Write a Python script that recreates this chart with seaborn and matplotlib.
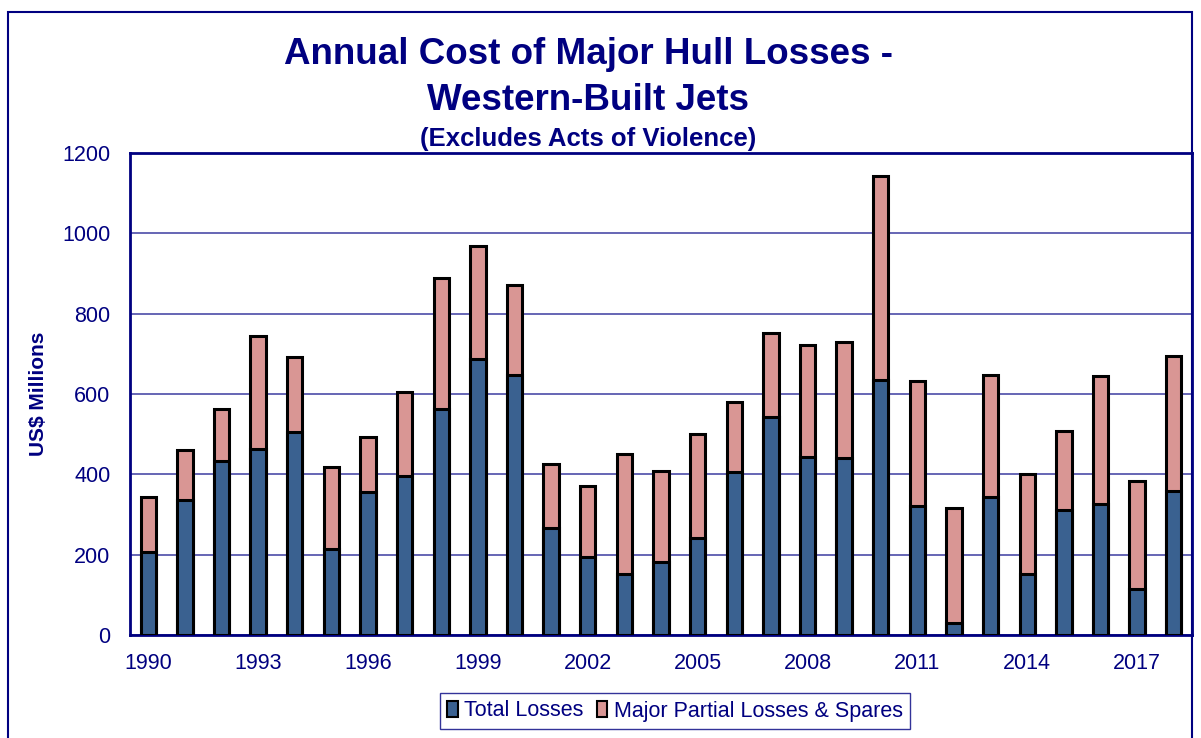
import matplotlib
matplotlib.use('Agg')
import matplotlib.pyplot as plt
import matplotlib.patches as mpatches
import pandas as pd
import seaborn as sns

# Data (US$ millions)
years = [str(y) for y in range(1990, 2019)]
total_losses = [206, 335, 432, 463, 506, 213, 355, 395, 563, 687, 647, 267, 195, 152, 182,
                242, 406, 543, 443, 441, 634, 322, 31, 343, 152, 311, 327, 115, 359]
partial_losses = [138, 125, 130, 281, 185, 205, 138, 210, 325, 281, 225, 159, 175, 299, 227,
                  258, 173, 209, 280, 289, 508, 310, 284, 305, 250, 198, 317, 268, 336]
shown_years = ['1990', '1993', '1996', '1999', '2002', '2005', '2008', '2011', '2014', '2017']
y_ticks = [0, 200, 400, 600, 800, 1000, 1200]

NAVY = '#000080'
DARK = '#3A6190'
PINK = '#D99694'

df = pd.DataFrame({'year': years, 'total': total_losses, 'partial': partial_losses})
df['stack_top'] = df['total'] + df['partial']

sns.set_style('white')
plt.rcParams['font.family'] = ['Liberation Sans', 'DejaVu Sans']

fig = plt.figure(figsize=(12.01, 7.38), dpi=100)
ax = fig.add_axes([130 / 1201, 1 - 635 / 738, (1192 - 130) / 1201, (635 - 153) / 738])

# Stacked bars: full height in pink, then total losses in dark blue on top
sns.barplot(data=df, x='year', y='stack_top', color=PINK, saturation=1, width=0.42,
            edgecolor='black', linewidth=2.2, ax=ax, zorder=3)
sns.barplot(data=df, x='year', y='total', color=DARK, saturation=1, width=0.42,
            edgecolor='black', linewidth=2.2, ax=ax, zorder=4)

ax.set_ylim(0, 1200)
ax.set_xlim(-0.5, len(years) - 0.5)
ax.set_yticks(y_ticks)
ax.set_yticklabels([str(v) for v in y_ticks])
ax.grid(axis='y', color='#3c3ca0', linewidth=1.1, zorder=0)
ax.set_axisbelow(True)

# x labels every third year, tick marks between categories
label_pos = [years.index(y) for y in shown_years]
ax.set_xticks(label_pos)
ax.set_xticklabels(shown_years)
ax.set_xticks([i - 0.5 for i in range(len(years) + 1)], minor=True)
ax.tick_params(axis='x', which='major', length=0, pad=13, labelsize=15.5, labelcolor=NAVY)
ax.tick_params(axis='x', which='minor', length=6, width=1.2, color=NAVY, direction='out')
ax.tick_params(axis='y', length=6, width=1.2, color=NAVY, direction='out', pad=8,
               labelsize=15.5, labelcolor=NAVY)

ax.set_xlabel('')
ax.set_ylabel('US$ Millions', fontsize=15, fontweight='bold', color=NAVY, labelpad=10)

for side in ['top', 'right', 'left', 'bottom']:
    ax.spines[side].set_visible(True)
    ax.spines[side].set_color(NAVY)
    ax.spines[side].set_linewidth(2)

# titles
fig.text(588 / 1201, 1 - 54 / 738, 'Annual Cost of Major Hull Losses -', ha='center', va='center',
         fontsize=26.5, fontweight='bold', color=NAVY)
fig.text(588 / 1201, 1 - 101 / 738, 'Western-Built Jets', ha='center', va='center',
         fontsize=26.5, fontweight='bold', color=NAVY)
fig.text(588 / 1201, 1 - 139 / 738, '(Excludes Acts of Violence)', ha='center', va='center',
         fontsize=18.5, fontweight='bold', color=NAVY)

# outer frame
fig.patches.append(mpatches.Rectangle((8 / 1201, -0.02), (1192 - 8) / 1201, 1.02 - 12 / 738,
                                      transform=fig.transFigure, fill=False,
                                      edgecolor=NAVY, linewidth=1.5))

handles = [mpatches.Patch(facecolor=DARK, edgecolor='black', linewidth=1.5, label='Total Losses'),
           mpatches.Patch(facecolor=PINK, edgecolor='black', linewidth=1.5,
                          label='Major Partial Losses & Spares')]
leg = fig.legend(handles=handles, loc='center', bbox_to_anchor=(675 / 1201, 1 - 711 / 738),
                 ncol=2, frameon=True, fancybox=False, fontsize=15.5, handlelength=0.5,
                 handleheight=0.8, handletextpad=0.3, columnspacing=0.6, borderpad=0.35)
leg.get_frame().set_edgecolor(NAVY)
leg.get_frame().set_linewidth(1)
for t in leg.get_texts():
    t.set_color(NAVY)

fig.savefig('out.png', dpi=100)
